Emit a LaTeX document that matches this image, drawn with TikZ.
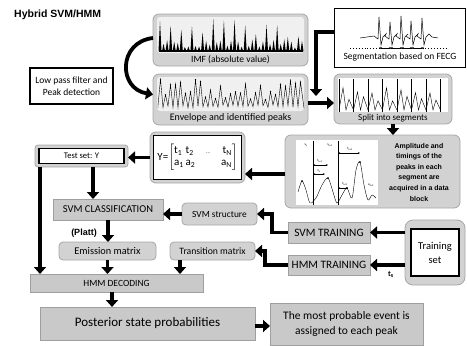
\documentclass[tikz,border=0pt]{standalone}
\usepackage{amsmath}
\usepackage{fontspec}
\setmainfont{Carlito}
\newfontfamily\arl{Liberation Sans}
\usetikzlibrary{arrows.meta,calc}
\begin{document}
\begin{tikzpicture}[x=1pt,y=-1pt,
  rbox/.style={draw=gray!70, line width=0.8pt, fill=gray!35, rounded corners=6pt, inner sep=0pt, outer sep=0pt, anchor=north west},
  sbox/.style={draw=gray!75, line width=0.6pt, fill=gray!42, inner sep=0pt, outer sep=0pt, anchor=north west},
  wbox/.style={draw=black, line width=1.3pt, fill=white, inner sep=0pt, outer sep=0pt, anchor=north west},
  arr/.style={line width=3.6pt, -{Triangle[length=7pt,width=12pt]}},
  lbl/.style={font=\fontsize{9.5}{10}\selectfont, inner sep=0pt},
  mk/.style={circle, fill=black, inner sep=0.5pt},
  thin/.style={line width=0.4pt}]
\useasboundingbox (0,0) rectangle (467,346);

% title
\node[font=\arl\bfseries\fontsize{10.5}{12}\selectfont, anchor=west, inner sep=0pt] (title) at (14,15) {Hybrid SVM/HMM};

% IMF box
\node[rbox, minimum width=155pt, minimum height=52pt] (imf) at (153,14) {};
\fill[gray!12, rounded corners=3pt] (157,17) rectangle (304,53);
\pgfmathsetseed{7}
\fill (159,50) rectangle (303,52);
\foreach \i in {0,...,40}{
  \pgfmathsetmacro\xx{160+\i*3.55}
  \pgfmathsetmacro\hh{mod(\i,3)==0 ? 14+18*rnd : 3+9*rnd}
  \fill (\xx-1.5,51) -- (\xx,51-\hh) -- (\xx+1.5,51) -- cycle;
}
\node[lbl] (imfl) at (230.5,59.5) {IMF (absolute value)};

% Envelope box
\node[rbox, minimum width=155pt, minimum height=51pt] (env) at (153,74) {};
\fill[gray!12, rounded corners=3pt] (157,77) rectangle (304,111);
\draw[thin] (158,108) \foreach \i in {0,...,28}{ -- ({158+\i*5},{108-3*rnd}) -- ({160.5+\i*5},{100-21*rnd}) node[mk]{} } -- (304,108);
\node[lbl, font=\fontsize{10}{11}\selectfont] (envl) at (230.5,118) {Envelope and identified peaks};

% low pass box
\node[wbox, minimum width=83pt, minimum height=36pt, align=center, font=\fontsize{9.5}{12}\selectfont] (lpf) at (30,68) {Low pass filter and\\Peak detection};
\draw[line width=3.8pt, -{Triangle[length=7pt,width=12pt]}] ([yshift=2pt]imf.west) .. controls +(-35,4) and +(-35,-6) .. ([yshift=5pt]env.west);

% segmentation box
\node[wbox, line width=1pt, minimum width=131pt, minimum height=59pt] (seg) at (334,8) {};
\draw[line width=0.5pt] (360,38) \foreach \b/\h in {380/17,391/22,402/16,412/21,423/18}{ -- (\b-6,36) -- (\b-2,39) -- (\b-1,\h) -- (\b+1,45) -- (\b+3,37) -- (\b+6,34) } -- (432,37) -- (438,38);
\draw[dotted, line width=0.9pt] (350,48) -- (446,48);
\foreach \a/\b in {380/391,391/402,402/412,412/423}
  \draw[line width=0.5pt, {Stealth[length=2pt]}-{Stealth[length=2pt]}] (\a,48) -- (\b,48);
\foreach \b in {380,391,402,412,423} \fill (\b,48) circle (1pt);
\node[lbl] (segl) at (400,57) {Segmentation based on FECG};

% split box
\node[rbox, minimum width=118pt, minimum height=50pt] (split) at (334,74) {};
\fill[white] (338,78) rectangle (448,112);
\foreach \k in {0,...,7} \draw[line width=0.6pt] ({339+\k*14.5},79) -- ({339+\k*14.5},112);
\draw[thin] (339,110) \foreach \k in {0,...,6}{ -- ({339+\k*14.5+4},{87+6*rnd}) -- ({339+\k*14.5+7},110) -- ({339+\k*14.5+10},{95+6*rnd}) -- ({339+\k*14.5+14.5},110)};
\node[lbl, font=\fontsize{9}{10}\selectfont] (splitl) at (393,118.5) {Split into segments};

% amplitude box
\node[rbox, minimum width=175pt, minimum height=73pt] (amp) at (285,135) {};
\fill[white] (296,140) rectangle (378,205);
\draw[line width=0.7pt] (313,141) -- (313,205) (338,141) -- (338,205);
\draw[thin] plot[smooth] coordinates {(298,192) (302,181) (306,190) (310,203) (316,198) (322,185) (328,178) (333,192) (337,203) (342,195) (347,188) (352,198) (356,170) (360,162) (364,185) (368,200) (372,195) (376,198)};
\draw[line width=0.4pt, {Stealth[length=2pt]}-{Stealth[length=2pt]}] (313,165) -- (328,165);
\draw[line width=0.4pt, {Stealth[length=2pt]}-{Stealth[length=2pt]}] (313,174) -- (325,174);
\draw[line width=0.4pt, {Stealth[length=2pt]}-{Stealth[length=2pt]}] (338,153) -- (360,153);
\draw[line width=0.4pt, {Stealth[length=2pt]}-{Stealth[length=2pt]}] (338,188) -- (348,188);
\foreach \p in {(302,181),(328,178),(347,188),(360,162)} \fill \p circle (1pt);
\begin{scope}[every node/.style={font=\fontsize{3.5}{4}\selectfont, inner sep=0pt}]
\node at (306,145) {s\textsubscript{k}};
\node at (330,145) {s\textsubscript{k+1}};
\node at (320,161) {t\textsubscript{k+1}};
\node at (319,171) {t\textsubscript{k}};
\node at (350,149) {t\textsubscript{k+2}};
\node at (345,184) {t\textsubscript{k+2}};
\node at (371,185) {a\textsubscript{k+2}};
\end{scope}
\node[font=\arl\bfseries\fontsize{7}{10.6}\selectfont, align=center, inner sep=0pt] (ampl) at (419,172) {Amplitude and\\timings of the\\peaks in each\\segment are\\acquired in a data\\block};

% matrix box
\node[rbox, minimum width=95pt, minimum height=51pt] (mat) at (150,132) {};
\node[wbox, minimum width=88pt, minimum height=44pt, anchor=center, font=\fontsize{11}{12}\selectfont] (matin) at (mat.center) {Y=$\left[\begin{array}{@{}l@{\,}l@{\quad}c@{\quad}r@{}}\text{t}_{\text{1}}&\text{t}_{\text{2}}&\text{\tiny ...}&\text{t}_{\text{N}}\\ \text{a}_{\text{1}}&\text{a}_{\text{2}}&&\text{a}_{\text{N}}\end{array}\right]$};

% test set
\node[rbox, rounded corners=3pt, minimum width=93pt, minimum height=22pt] (test) at (35,145) {};
\node[wbox, minimum width=85pt, minimum height=15pt, anchor=center, font=\fontsize{8.6}{9}\selectfont] (testin) at (test.center) {Test set: Y};

% svm classification etc
\node[sbox, minimum width=110pt, minimum height=21pt, font=\fontsize{10.5}{11}\selectfont] (svmc) at (53,199) {SVM CLASSIFICATION};
\node[rbox, rounded corners=4pt, minimum width=75pt, minimum height=22pt, font=\fontsize{9.4}{10}\selectfont] (svms) at (182,203) {SVM structure};
\node[font=\arl\bfseries\fontsize{9}{10}\selectfont, inner sep=0pt] (platt) at (84,233) {(Platt)};
\node[rbox, rounded corners=4pt, minimum width=97pt, minimum height=18pt, font=\fontsize{10.3}{11}\selectfont] (emis) at (59,242) {Emission matrix};
\node[rbox, rounded corners=4pt, minimum width=85pt, minimum height=18pt, font=\fontsize{9.7}{10}\selectfont] (trans) at (170,242) {Transition matrix};
\node[sbox, minimum width=173pt, minimum height=18pt, font=\fontsize{9.5}{10}\selectfont] (hmm) at (30,274) {HMM DECODING};
\node[sbox, minimum width=215pt, minimum height=33pt, font=\fontsize{13}{15}\selectfont] (post) at (40,307) {Posterior state probabilities};
\node[sbox, minimum width=153pt, minimum height=42pt, align=center, font=\fontsize{11.5}{15}\selectfont] (most) at (270,303) {The most probable event is\\assigned to each peak};
\node[sbox, minimum width=82pt, minimum height=21pt, font=\fontsize{11.3}{12}\selectfont] (svmt) at (288,222) {SVM TRAINING};
\node[sbox, minimum width=82pt, minimum height=20pt, font=\fontsize{11.3}{12}\selectfont] (hmmt) at (288,255) {HMM TRAINING};
\node[rbox, rounded corners=8pt, minimum width=60pt, minimum height=65pt] (train) at (405,220) {};
\node[wbox, minimum width=48pt, minimum height=47pt, anchor=center, align=center, font=\fontsize{10.5}{14}\selectfont] (trainin) at (train.center) {Training\\set};
\node[font=\fontsize{8}{9}\selectfont\bfseries, inner sep=0pt] (ts) at (391,274) {t\textsubscript{s}};

% connectors
\coordinate (segdrop) at (316,96);
\draw[arr] (seg.west |- 0,32) -| (segdrop);
\draw[arr] (env.east |- 0,103) -- (split.west |- 0,103);
\draw[arr] (split.south) -- (split.south |- amp.north);
\draw[arr] (amp.west |- 0,174) -- (mat.east |- 0,174);
\draw[arr] (mat.west) -- (mat.west -| test.east);
\draw[arr] (test.south -| 93,0) -- (svmc.north -| 93,0);
\draw[arr] ([xshift=5pt]test.south west) -- ([xshift=5pt]test.south west |- hmm.north);
\draw[arr] (svms.west) -- (svms.west -| svmc.east);
\draw[arr] (svmc.south) -- (svmc.south |- emis.north);
\draw[arr] (emis.south) -- (emis.south |- hmm.north);
\draw[arr] (trans.south -| 180,0) -- (hmm.north -| 180,0);
\draw[arr] (hmm.south -| 112,0) -- (post.north -| 112,0);
\draw[arr] (post.east |- 0,326) -- (most.west |- 0,326);
\draw[arr] (train.west |- svmt.east) -- (svmt.east);
\draw[arr] (train.west |- hmmt.east) -- (hmmt.east);
\draw[arr] (svmt.west) -- ++(-16,0) |- (svms.east);
\draw[arr] (hmmt.west) -- ++(-23,0) |- (trans.east);
\end{tikzpicture}
\end{document}
